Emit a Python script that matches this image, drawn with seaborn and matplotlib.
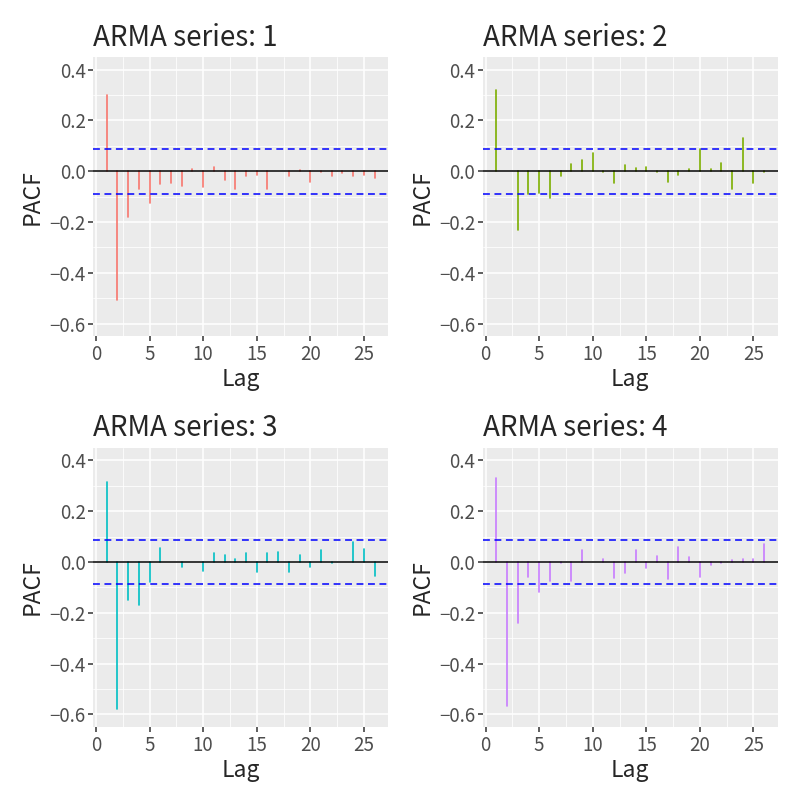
import numpy as np
import pandas as pd
import matplotlib
matplotlib.use("Agg")
import matplotlib.pyplot as plt
import seaborn as sns

# PACF values, lags 1..26
lags = list(range(1, 27))
pacf_1 = [0.300, -0.506, -0.180, -0.069, -0.124, -0.052, -0.048, -0.059, 0.007, -0.061,
          0.017, -0.034, -0.068, -0.020, -0.014, -0.068, 0.002, -0.020, 0.003, -0.042,
          -0.005, -0.020, -0.008, -0.020, -0.016, -0.027]
pacf_2 = [0.319, 0.001, -0.232, -0.090, -0.085, -0.104, -0.020, 0.029, 0.046, 0.072,
          -0.004, -0.046, 0.023, 0.013, 0.018, -0.003, -0.043, -0.016, 0.007, 0.087,
          0.007, 0.031, -0.068, 0.130, -0.047, -0.004]
pacf_3 = [0.314, -0.578, -0.149, -0.170, -0.080, 0.053, -0.002, -0.018, 0.001, -0.034,
          0.034, 0.029, 0.013, 0.037, -0.038, 0.034, 0.039, -0.041, 0.029, -0.021,
          0.045, -0.003, 0.000, 0.078, 0.049, -0.057]
pacf_4 = [0.332, -0.568, -0.242, -0.058, -0.117, -0.075, -0.003, -0.076, 0.045, 0.000,
          0.011, -0.064, -0.045, 0.046, -0.025, 0.022, -0.068, 0.059, 0.020, -0.058,
          -0.012, -0.003, 0.009, 0.011, 0.013, 0.072]
series = [pacf_1, pacf_2, pacf_3, pacf_4]
titles = ["ARMA series: 1", "ARMA series: 2", "ARMA series: 3", "ARMA series: 4"]
colors = ["#F8766D", "#7CAE00", "#00BFC4", "#C77CFF"]
n_obs = 500
ci = 1.96 / np.sqrt(n_obs)

sns.set_theme(style="darkgrid", rc={
    "axes.facecolor": "#EBEBEB",
    "grid.color": "white",
    "axes.edgecolor": "#EBEBEB",
    "xtick.bottom": True,
    "ytick.left": True,
    "xtick.color": "#333333",
    "ytick.color": "#333333",
    "xtick.major.size": 3.5,
    "ytick.major.size": 3.5,
    "xtick.major.width": 1.1,
    "ytick.major.width": 1.1,
})
plt.rcParams["font.family"] = ["Noto Sans CJK JP", "DejaVu Sans"]

fig, axes = plt.subplots(2, 2, figsize=(8, 8), dpi=100)
fig.subplots_adjust(left=0.1166, right=0.972, top=0.929, bottom=0.091,
                    wspace=0.322, hspace=0.397)

for ax, vals, title, col in zip(axes.flat, series, titles, colors):
    # each lag becomes a vertical segment from 0 to its value
    df = pd.DataFrame({
        "lag": np.repeat(lags, 2),
        "pacf": np.ravel(np.column_stack([np.zeros(len(vals)), vals])),
    })
    sns.lineplot(data=df, x="lag", y="pacf", units="lag", estimator=None,
                 sort=False, color=col, linewidth=1.2, ax=ax)
    ax.axhline(0, color="black", linewidth=1.1, zorder=3)
    ax.axhline(ci, color="blue", linestyle=(0, (4.5, 3)), linewidth=1.1, zorder=3)
    ax.axhline(-ci, color="blue", linestyle=(0, (4.5, 3)), linewidth=1.1, zorder=3)

    ax.set_xlim(-0.25, 27.25)
    ax.set_ylim(-0.65, 0.45)
    ax.set_xticks([0, 5, 10, 15, 20, 25])
    ax.set_yticks([-0.6, -0.4, -0.2, 0.0, 0.2, 0.4])
    ax.set_yticklabels(["\u22120.6", "\u22120.4", "\u22120.2", "0.0", "0.2", "0.4"])
    ax.set_xticks(np.arange(2.5, 27, 5), minor=True)
    ax.set_yticks(np.arange(-0.5, 0.4, 0.2), minor=True)
    ax.grid(which="major", color="white", linewidth=1.1)
    ax.grid(which="minor", color="white", linewidth=0.55)
    ax.tick_params(which="minor", length=0)
    ax.tick_params(which="major", labelsize=13.5, labelcolor="#4D4D4D", pad=2)
    for s in ax.spines.values():
        s.set_visible(False)

    ax.set_xlabel("Lag", fontsize=16.5, labelpad=2)
    ax.set_ylabel("PACF", fontsize=16.5, labelpad=4)
    ax.set_title(title, loc="left", fontsize=20, pad=8)

plt.savefig("out.png", dpi=100)
